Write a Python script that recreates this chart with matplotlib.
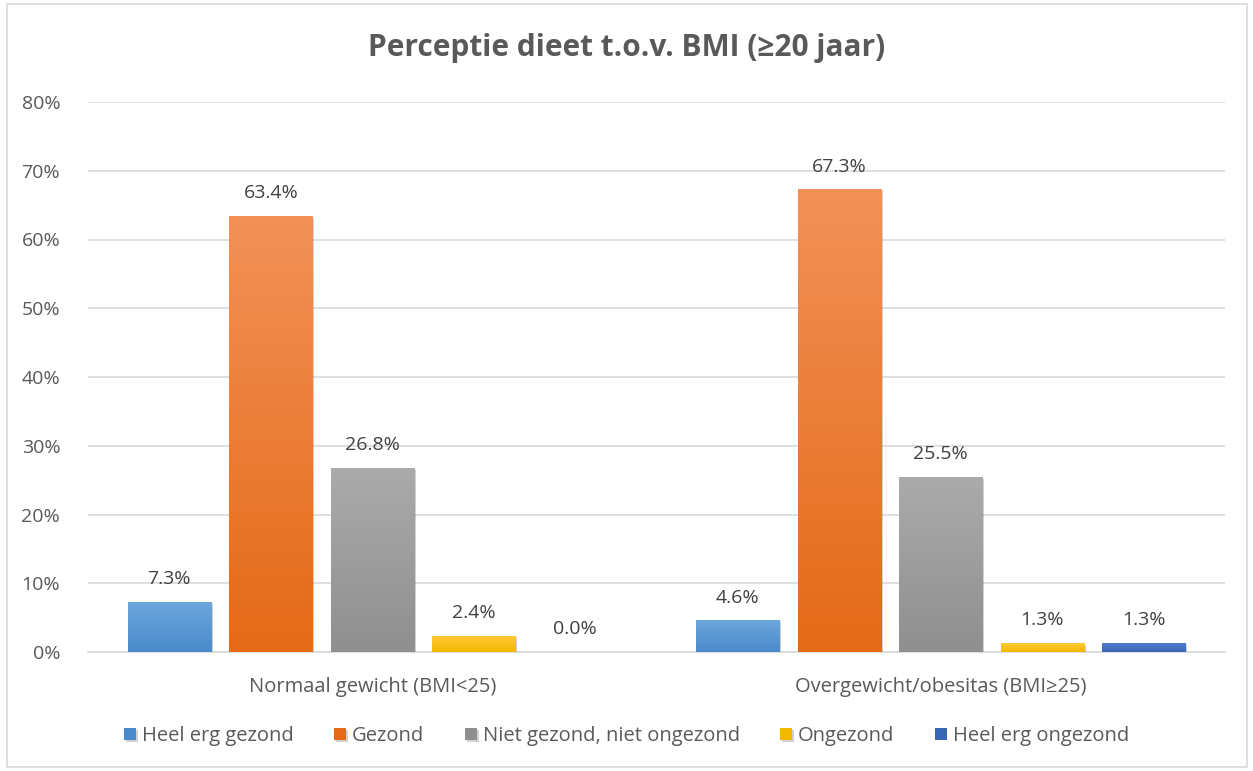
import numpy as np
import matplotlib.pyplot as plt
from matplotlib.patches import Rectangle
from matplotlib.colors import LinearSegmentedColormap
import matplotlib.patheffects as pe

plt.rcParams['font.family'] = ['Open Sans', 'DejaVu Sans']

# Data
groups = ["Normaal gewicht (BMI<25)", "Overgewicht/obesitas (BMI≥25)"]
series = ["Heel erg gezond", "Gezond", "Niet gezond, niet ongezond",
          "Ongezond", "Heel erg ongezond"]
values = [
    [7.3, 4.6],
    [63.4, 67.3],
    [26.8, 25.5],
    [2.4, 1.3],
    [0.0, 1.3],
]
# (top colour, bottom colour) for the gradient fill
colors = [
    ("#6CA7DD", "#4A8ACB"),
    ("#F29158", "#E46A17"),
    ("#ABABAB", "#8F8F8F"),
    ("#FFC93A", "#F2B800"),
    ("#4F7ECB", "#3A66B8"),
]
yticks = [0, 10, 20, 30, 40, 50, 60, 70, 80]

text_col = "#595959"

fig = plt.figure(figsize=(12.53, 7.71), dpi=100)
ax = fig.add_axes([88 / 1253, 1 - 652 / 771, (1225 - 88) / 1253, (652 - 102) / 771])

# thin border around the chart area, like the Excel chart frame
fig.patches.append(Rectangle((7 / 1253, 1 - 767 / 771), 1240 / 1253, 763 / 771,
                             transform=fig.transFigure, fill=False,
                             edgecolor="#D9D9D9", linewidth=1.2))

x = np.arange(len(groups))
step = 0.1785
width = 0.146
n = len(series)

for i, (name, vals, (ctop, cbot)) in enumerate(zip(series, values, colors)):
    pos = x + (i - (n - 1) / 2) * step
    bars = ax.bar(pos, vals, width, color=cbot, label=name, zorder=3,
                  edgecolor="none")
    cmap = LinearSegmentedColormap.from_list(f"g{i}", [cbot, ctop])
    grad = np.linspace(0, 1, 256).reshape(-1, 1)
    for b, v in zip(bars, vals):
        if v <= 0:
            continue
        b.set_path_effects([pe.SimplePatchShadow(offset=(1.5, -1.5), shadow_rgbFace="#000000", alpha=0.18),
                            pe.Normal()])
        im = ax.imshow(grad, cmap=cmap, origin="lower", aspect="auto",
                       extent=(b.get_x(), b.get_x() + b.get_width(), 0, v),
                       zorder=4)
        im.set_clip_path(b)
    for p, v in zip(pos, vals):
        ax.text(p, v + 2.0, f"{v:.1f}%", ha="center", va="bottom",
                fontsize=14, color="#404040", zorder=5)

ax.set_xlim(-0.5, 1.5)
ax.set_ylim(0, 80)
ax.set_yticks(yticks)
ax.set_yticklabels([f"{t}%" for t in yticks])
ax.set_xticks(x)
ax.set_xticklabels(groups)
ax.tick_params(axis="both", length=0, labelsize=14, labelcolor=text_col)
ax.tick_params(axis="x", labelsize=14.5, pad=18)
ax.tick_params(axis="y", pad=20)
ax.grid(axis="y", color="#D9D9D9", linewidth=1.2, zorder=0)
for s in ["top", "right", "left"]:
    ax.spines[s].set_visible(False)
ax.spines["bottom"].set_color("#D9D9D9")
ax.spines["bottom"].set_linewidth(1.2)

fig.suptitle("Perceptie dieet t.o.v. BMI (≥20 jaar)", y=1 - 48 / 771,
             va="center", fontsize=21.5, fontweight="bold", color=text_col)

handles, labels = ax.get_legend_handles_labels()
for h, (ctop, cbot) in zip(handles, colors):
    h.patches[0].set_facecolor(cbot)
leg = fig.legend(handles, labels, loc="center", bbox_to_anchor=(0.5, 1 - 736 / 771),
                 ncol=5, frameon=False, fontsize=14.5, handlelength=0.6,
                 handleheight=0.6, handletextpad=0.3, columnspacing=2.0)
for t in leg.get_texts():
    t.set_color(text_col)

fig.savefig("out.png", dpi=100)
